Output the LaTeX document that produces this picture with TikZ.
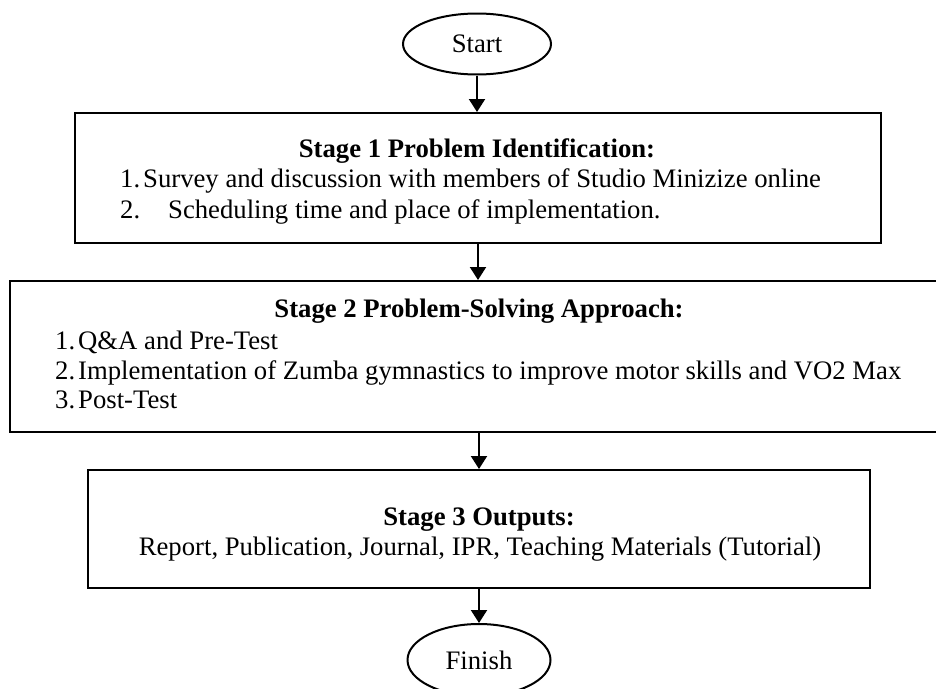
\documentclass[tikz,border=0pt]{standalone}
\usepackage{fontspec}
\setmainfont{Liberation Serif}
\usepackage{tikz}
\usetikzlibrary{positioning, calc, shapes.geometric, arrows.meta}
\tikzset{
  termbox/.style={ellipse, draw=black, line width=2pt, inner sep=0pt,
                  font=\fontsize{26.7}{30}\selectfont},
  stagebox/.style={rectangle, draw=black, line width=2pt, inner sep=0pt},
  stagetitle/.style={anchor=base, inner sep=0pt,
                     font=\fontsize{26.7}{30}\selectfont\bfseries},
  stageitem/.style={anchor=base west, inner sep=0pt,
                    font=\fontsize{26.7}{30}\selectfont},
  flow/.style={-{Triangle[length=13pt, width=16pt]}, line width=2pt, black},
}

\begin{document}
\begin{tikzpicture}[x=1pt, y=-1pt]
    \clip (0,0) rectangle (936,688);

    % Top: Start
    \node[termbox, minimum width=148pt, minimum height=61pt] (start) at (477,44) {Start};

    % Stage 1
    \node[stagebox, minimum width=806pt, minimum height=130pt] (s1) at (478,178) {};
    \node[stagetitle] (s1t) at (477,157) {Stage 1 Problem Identification:};
    \node[stageitem] (s1a) at (120,187) {\makebox[23pt][l]{1.}Survey and discussion with members of Studio Minizize online};
    \node[stageitem] (s1b) at (120,218) {\makebox[48pt][l]{2.}Scheduling time and place of implementation.};

    % Stage 2
    \node[stagebox, minimum width=942pt, minimum height=151pt] (s2) at (481,356.5) {};
    \node[stagetitle] (s2t) at (479,317) {Stage 2 Problem-Solving Approach:};
    \node[stageitem] (s2a) at (55,349) {\makebox[23pt][l]{1.}Q\&A and Pre-Test};
    \node[stageitem] (s2b) at (55,379) {\makebox[23pt][l]{2.}Implementation of Zumba gymnastics to improve motor skills and VO2 Max};
    \node[stageitem] (s2c) at (55,408) {\makebox[23pt][l]{3.}Post-Test};

    % Stage 3
    \node[stagebox, minimum width=782pt, minimum height=118pt] (s3) at (479,529) {};
    \node[stagetitle] (s3t) at (479,525) {Stage 3 Outputs:};
    \node[stageitem, anchor=base] (s3a) at (480,555) {Report, Publication, Journal, IPR, Teaching Materials (Tutorial)};

    % Bottom: Finish
    \node[termbox, minimum width=143pt, minimum height=72pt] (finish) at (479,660) {Finish};

    % Connections
    \draw[flow] (start.south) -- (start.south |- s1.north);
    \draw[flow] (s1.south) -- (s1.south |- s2.north);
    \draw[flow] (s3.north |- s2.south) -- (s3.north);
    \draw[flow] (s3.south) -- (s3.south |- finish.north);
\end{tikzpicture}
\end{document}
